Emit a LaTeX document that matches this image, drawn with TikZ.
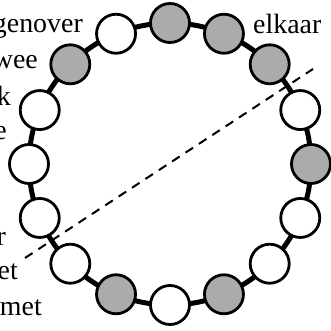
\documentclass[tikz,border=0pt]{standalone}
\usepackage{fontspec}
\setmainfont{Liberation Serif}
\usetikzlibrary{calc}
\begin{document}
\begin{tikzpicture}[x=1bp,y=-1bp,
  bead/.style={circle,draw=black,line width=2.8bp,minimum size=39bp,inner sep=0pt},
  wbead/.style={bead,fill=white},
  gbead/.style={bead,fill=black!33},
  lbl/.style={inner sep=0pt,font=\fontsize{28}{32}\selectfont},
]
\useasboundingbox (0,0) rectangle (331,331);
\coordinate (c) at (170,164);
\draw[line width=5bp] (c) circle[radius=141bp];
\foreach \a/\s [count=\i] in {90/g,67.5/g,45/g,22.5/w,0/g,-22.5/w,-45/w,-67.5/g,-90/w,-112.5/g,-135/w,-157.5/w,180/w,157.5/w,135/g,112.5/w}{
  \node[\s bead] (b\i) at ($(c)+(\a:141bp)$) {};
}
\coordinate (d1) at (25,258);
\coordinate (d2) at (313,69);
\draw[line width=2bp,dash pattern=on 9bp off 7bp] (d1) -- (d2);
\node[lbl,anchor=base east] (t1) at (83,32) {genover};
\node[lbl,anchor=base east] (t2) at (38,68) {wee};
\node[lbl,anchor=base east] (t3) at (11,105) {k};
\node[lbl,anchor=base east] (t4) at (7,139) {e};
\node[lbl,anchor=base east] (t5) at (6,245) {r};
\node[lbl,anchor=base east] (t6) at (18,279) {et};
\node[lbl,anchor=base east] (t7) at (42,315) {met};
\node[lbl,anchor=base west] (t8) at (253,33) {elkaar};
\end{tikzpicture}
\end{document}
